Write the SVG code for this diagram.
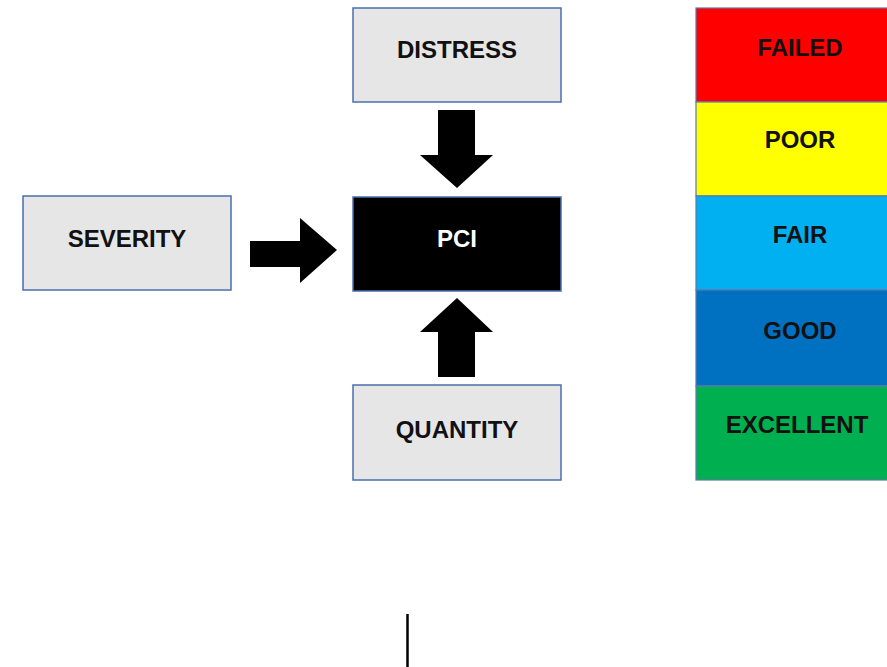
<svg xmlns="http://www.w3.org/2000/svg" width="887" height="667" viewBox="0 0 887 667">
<style>
.box{fill:#E6E6E6;stroke:#4A6FAD;stroke-width:1.5}
.pci{fill:#000;stroke:#4A6FAD;stroke-width:1.5}
.lbl{font-family:"Liberation Sans",Arial,sans-serif;font-weight:bold;font-size:24px;text-anchor:middle;fill:#111}
.band{stroke:#5A7AAE;stroke-width:1.2}
.arrow{fill:#000}
</style>
<rect width="887" height="667" fill="#fff"/>
<g id="distress"><rect class="box" x="353" y="8" width="208" height="94"/><text class="lbl" x="457" y="58">DISTRESS</text></g>
<g id="pci"><rect class="pci" x="353" y="197" width="208" height="94"/><text class="lbl" x="457" y="247" style="fill:#fff">PCI</text></g>
<g id="severity"><rect class="box" x="23" y="196" width="208" height="94"/><text class="lbl" x="127" y="247">SEVERITY</text></g>
<g id="quantity"><rect class="box" x="353" y="385" width="208" height="95"/><text class="lbl" x="457" y="438">QUANTITY</text></g>
<g id="connectors">
<polygon class="arrow" points="438,110 475,110 475,155 493,155 457,188 420,155 438,155"/>
<polygon class="arrow" points="250,241 300,241 300,218 337,250 300,283 300,267 250,267"/>
<polygon class="arrow" points="438,377 475,377 475,332 493,332 457,298 420,332 438,332"/>
</g>
<g id="scale">
<rect class="band" x="696" y="8" width="195" height="94" fill="#FF0000"/>
<rect class="band" x="696" y="102" width="195" height="94" fill="#FFFF00"/>
<rect class="band" x="696" y="196" width="195" height="94" fill="#00B0F0"/>
<rect class="band" x="696" y="290" width="195" height="96" fill="#0070C0"/>
<rect class="band" x="696" y="386" width="195" height="94" fill="#00B050"/>
<text class="lbl" x="800" y="56">FAILED</text>
<text class="lbl" x="800" y="148">POOR</text>
<text class="lbl" x="800" y="243">FAIR</text>
<text class="lbl" x="800" y="339">GOOD</text>
<text class="lbl" x="797" y="433">EXCELLENT</text>
</g>
<line x1="407.5" y1="614" x2="407.5" y2="667" stroke="#000" stroke-width="2.5"/>
</svg>
